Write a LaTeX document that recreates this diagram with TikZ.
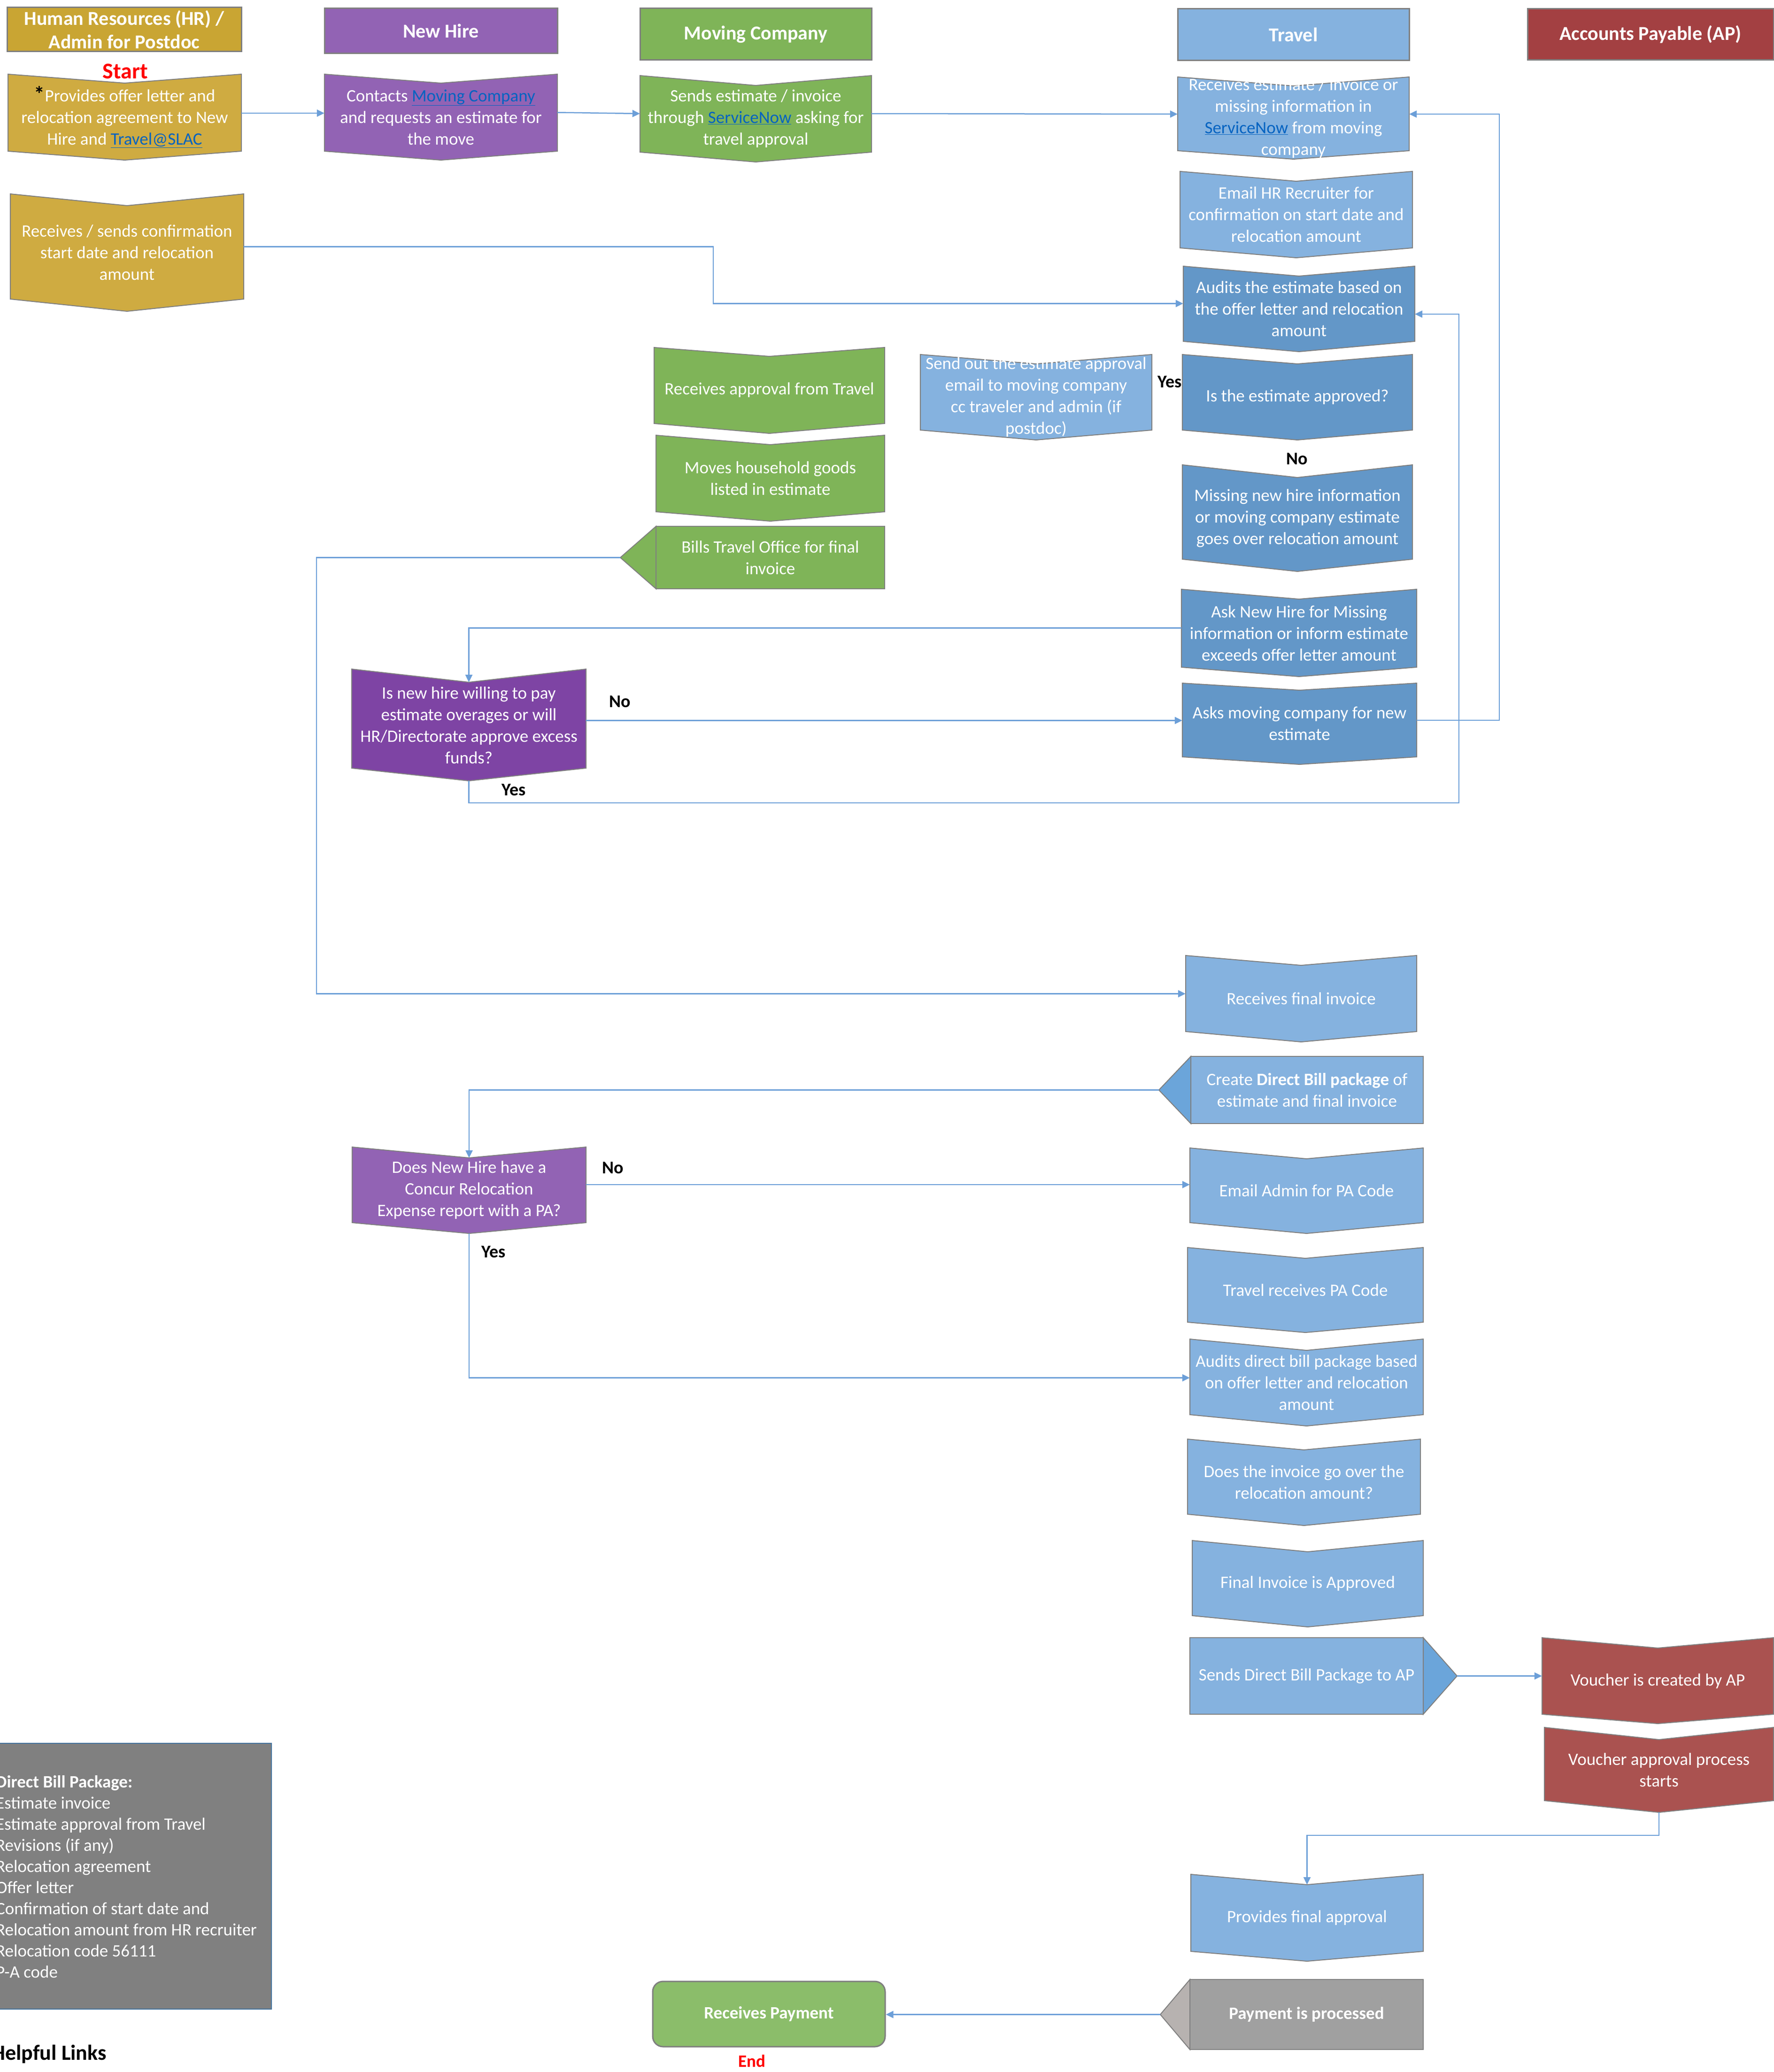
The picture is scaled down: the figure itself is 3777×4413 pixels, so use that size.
\documentclass[tikz,border=0pt]{standalone}
\usepackage{fontspec}
\setmainfont{Carlito}
\usetikzlibrary{arrows.meta,calc}
\definecolor{hrgold}{HTML}{CFAB41}
\definecolor{hrgoldh}{HTML}{C9A533}
\definecolor{nhpurple}{HTML}{9263B4}
\definecolor{dkpurple}{HTML}{7E44A4}
\definecolor{mcgreen}{HTML}{7FB458}
\definecolor{rpgreen}{HTML}{8BBD6A}
\definecolor{ltblue}{HTML}{85B2DF}
\definecolor{dkblue}{HTML}{6397C8}
\definecolor{triblue}{HTML}{6BA5DA}
\definecolor{aphead}{HTML}{A34042}
\definecolor{apred}{HTML}{AA5250}
\definecolor{pkgray}{HTML}{808080}
\definecolor{paygray}{HTML}{A0A0A0}
\definecolor{paytri}{HTML}{B7B2B0}
\definecolor{conncol}{HTML}{6C9FD8}
\definecolor{edge}{HTML}{7F7F7F}
\definecolor{linkblue}{HTML}{0563C1}
\definecolor{pkborder}{HTML}{41719C}
\definecolor{startred}{HTML}{FF0000}
\newcommand\lnk[1]{{\color{linkblue}\underline{#1}}}
\tikzset{
 boxtext/.style={inner sep=0pt,text=white,align=center,font=\fontsize{37}{46}\selectfont},
 hdr/.style={draw=edge,line width=3pt,text=white,inner sep=0pt,align=center,font=\bfseries\fontsize{42}{50}\selectfont},
 lbl/.style={font=\bfseries\fontsize{38}{46}\selectfont,text=black,inner sep=0pt},
 conn/.style={draw=conncol,line width=2.5pt},
 arr/.style={conn,-{Triangle[length=16pt,width=15pt]}},
}
% chevron pointing down: name, x1, x2, ytop, ynotch, ybottom, ypoint, fill, text
\newcommand\chev[9]{%
  \filldraw[fill=#8,draw=edge,line width=2pt] (#2,#4) -- ({(#2+#3)/2},#5) -- (#3,#4) -- (#3,#6) -- ({(#2+#3)/2},#7) -- (#2,#6) -- cycle;
  \node[boxtext,minimum width={(#3-#2)*1pt},minimum height={(#6-#5)*1pt}] (#1) at ({(#2+#3)/2},{(#5+#6)/2}) {#9};
  \coordinate (#1-top) at ({(#2+#3)/2},#5);
  \coordinate (#1-bot) at ({(#2+#3)/2},#7);}
% rectangle with a triangle: name, x1, x2, ytop, ybottom, xtip, fill, trianglefill, text
\newcommand\tribox[9]{%
  \filldraw[fill=#7,draw=edge,line width=2pt] (#2,#4) rectangle (#3,#5);
  \filldraw[fill=#8,draw=edge,line width=2pt] ({ifthenelse(#6<#2,#2,#3)},#4) -- (#6,{(#4+#5)/2}) -- ({ifthenelse(#6<#2,#2,#3)},#5) -- cycle;
  \node[boxtext,minimum width={(#3-#2)*1pt},minimum height={(#5-#4)*1pt}] (#1) at ({(#2+#3)/2},{(#4+#5)/2}) {#9};
  \coordinate (#1-tip) at (#6,{(#4+#5)/2});}
\begin{document}
\begin{tikzpicture}[x=1pt,y=-1pt]
\useasboundingbox (0,0) rectangle (3777,4413);
\fill[white] (0,0) rectangle (3777,4413);

% headers
\node[hdr,fill=hrgoldh,minimum width=499pt,minimum height=94pt] (hHR) at (264.5,63) {Human Resources (HR) /\\Admin for Postdoc};
\node[hdr,fill=nhpurple,minimum width=496pt,minimum height=96pt] (hNH) at (939,66) {New Hire};
\node[hdr,fill=mcgreen,minimum width=493pt,minimum height=110pt] (hMC) at (1609.5,73) {Moving Company};
\node[hdr,fill=ltblue,minimum width=493pt,minimum height=110pt] (hTR) at (2754.5,74) {Travel};
\node[hdr,fill=aphead,minimum width=524pt,minimum height=109pt] (hAP) at (3515,73.5) {Accounts Payable (AP)};

\node[font=\bfseries\fontsize{48}{56}\selectfont,text=startred,inner sep=0pt] (start) at (267,152) {Start};

% HR column
\chev{hr1}{17}{514}{158}{177}{322}{341}{hrgold}{{\color{black}\fontsize{46}{46}\selectfont\textbf{*}}Provides offer letter and\\relocation agreement to New\\Hire and \lnk{Travel@SLAC}}
\chev{hr2}{22}{519}{413}{438}{637}{663}{hrgold}{Receives / sends confirmation\\start date and relocation\\amount}

% New hire column
\chev{nh1}{691}{1187}{158}{177}{322}{341}{nhpurple}{Contacts \lnk{Moving Company}\\and requests an estimate for\\the move}
\chev{dec1}{749}{1248}{1425}{1453}{1636}{1663}{dkpurple}{Is new hire willing to pay\\estimate overages or will\\HR/Directorate approve excess\\funds?}
\chev{dec2}{750}{1248}{2443}{2466}{2604}{2627}{nhpurple}{Does New Hire have a\\Concur Relocation\\Expense report with a PA?}

% Moving company column
\chev{mc1}{1363}{1856}{161}{182}{324}{345}{mcgreen}{Sends estimate / invoice\\through \lnk{ServiceNow} asking for\\travel approval}
\chev{rap}{1393}{1884}{740}{759}{902}{923}{mcgreen}{Receives approval from Travel}
\chev{moves}{1397}{1884}{927}{947}{1090}{1110}{mcgreen}{Moves household goods\\listed in estimate}
\tribox{bills}{1397}{1884}{1121}{1254}{1321}{mcgreen}{mcgreen}{Bills  Travel Office for final\\invoice}

% Travel column
\chev{recv}{2508}{3001}{164}{183}{321}{339}{ltblue}{Receives estimate / invoice or\\missing information in\\\lnk{ServiceNow} from moving\\company}
\chev{ehr}{2513}{3008}{365}{386}{528}{549}{ltblue}{Email HR Recruiter for\\confirmation on start date and\\relocation amount}
\chev{aud}{2520}{3013}{567}{588}{727}{749}{dkblue}{Audits the estimate based on\\the offer letter and relocation\\amount}
\chev{isap}{2518}{3008}{755}{775}{916}{937}{dkblue}{Is the estimate approved?}
\chev{sendout}{1960}{2453}{755}{775}{916}{937}{ltblue}{Send out the estimate approval\\email to moving company\\cc traveler and admin (if\\postdoc)}
\chev{miss}{2518}{3008}{990}{1017}{1191}{1217}{dkblue}{Missing new hire information\\or moving company estimate\\goes over relocation amount}
\chev{ask}{2516}{3017}{1255}{1276}{1421}{1441}{dkblue}{Ask New Hire for Missing\\information or inform estimate\\exceeds offer letter amount}
\chev{asks}{2518}{3017}{1455}{1470}{1612}{1628}{dkblue}{Asks moving company for new\\estimate}
\chev{rfi}{2525}{3017}{2035}{2056}{2197}{2219}{ltblue}{Receives final invoice}
\tribox{cdb}{2536}{3031}{2250}{2393}{2468}{ltblue}{triblue}{Create \textbf{Direct Bill package} of\\estimate and final invoice}
\chev{ea}{2534}{3031}{2445}{2468}{2604}{2627}{ltblue}{Email Admin for PA Code}
\chev{trpa}{2529}{3031}{2657}{2680}{2816}{2838}{ltblue}{Travel receives PA Code}
\chev{adb}{2534}{3031}{2852}{2876}{3013}{3037}{ltblue}{Audits direct bill package based\\on offer letter and relocation\\amount}
\chev{dinv}{2529}{3025}{3065}{3088}{3225}{3249}{ltblue}{Does the invoice go over the\\relocation amount?}
\chev{fia}{2539}{3031}{3281}{3305}{3441}{3465}{ltblue}{Final Invoice is Approved}
\tribox{sdb}{2534}{3031}{3488}{3651}{3103}{ltblue}{triblue}{Sends Direct Bill Package to AP}
\chev{pfa}{2536}{3031}{3992}{4014}{4156}{4177}{ltblue}{Provides final approval}
\tribox{pay}{2534}{3031}{4216}{4365}{2471}{paygray}{paytri}{\textbf{Payment is processed}}

% AP column
\chev{vc}{3284}{3777}{3488}{3510}{3651}{3671}{apred}{Voucher is created by AP}
\chev{vap}{3289}{3777}{3679}{3705}{3835}{3860}{apred}{Voucher approval process\\starts}

% end
\node[draw=edge,line width=3pt,fill=rpgreen,rounded corners=22pt,minimum width=495pt,minimum height=139pt,text=white,inner sep=0pt,font=\bfseries\fontsize{37}{46}\selectfont] (rp) at (1637.5,4289.5) {Receives Payment};
\node[font=\bfseries\fontsize{37}{44}\selectfont,text=startred,inner sep=0pt] (endlbl) at (1601,4390) {End};

% direct bill package box
\filldraw[fill=pkgray,draw=pkborder,line width=2.5pt] (-10,3713) rectangle (578,4279);
\node[anchor=west,align=left,text=white,inner sep=0pt,font=\fontsize{37}{45}\selectfont] (dbp) at (-9,3997) {\textbf{Direct Bill Package:}\\Estimate invoice\\Estimate approval from Travel\\Revisions (if any)\\Relocation agreement\\Offer letter\\Confirmation of start date and\\Relocation amount from HR recruiter\\Relocation code 56111\\P-A code};
\node[anchor=west,inner sep=0pt,font=\bfseries\fontsize{46}{54}\selectfont] (links) at (-18,4375) {Helpful Links};

% labels
\node[lbl] (yesA) at (2491,813) {Yes};
\node[lbl] (noA) at (2762,977) {No};
\node[lbl] (noB) at (1320,1494) {No};
\node[lbl] (yesB) at (1094,1682) {Yes};
\node[lbl] (noC) at (1305,2487) {No};
\node[lbl] (yesC) at (1051,2666) {Yes};

% connectors
\draw[arr] ([yshift=8.5pt]hr1.east) -- ([yshift=8.5pt]nh1.west);
\draw[arr] ([yshift=10pt]nh1.east) -- ([yshift=11pt]mc1.west);
\draw[arr] ([yshift=11pt]mc1.east) -- ([yshift=9pt]recv.west);

\coordinate (j1) at (1519,600);
\draw[arr] ([yshift=12pt]hr2.east) -| (j1) |- ([yshift=11pt]aud.west);

\coordinate (j2) at (3193,900);
\coordinate (askso) at ($(asks.east)+(0,-7)$);
\draw[arr] (askso) -| (j2) |- ([yshift=9pt]recv.east);

\coordinate (j3) at (3107,1710);
\draw[arr] (dec1-bot) |- (j3) |- ([yshift=-11.5pt]aud.east);

\coordinate (asko) at ($(ask.west)+(0,-11)$);
\draw[arr] (asko) -| (dec1-top);

\coordinate (d1o) at ($(dec1.east)+(0,-10)$);
\draw[arr] (d1o) -- (d1o -| asks.west);

\coordinate (j4) at (674,1600);
\draw[arr] (bills-tip) -| (j4) |- ([yshift=10pt]rfi.west);

\draw[arr] (cdb-tip) -| (dec2-top);

\coordinate (d2o) at ($(dec2.east)+(0,-12)$);
\draw[arr] (d2o) -- (d2o -| ea.west);

\draw[arr] (dec2-bot) |- ([yshift=10pt]adb.west);

\draw[arr] (sdb-tip) -- (sdb-tip -| vc.west);

\coordinate (j5) at (3000,3909);
\draw[arr] (vap-bot) |- (j5) -| (pfa-top);

\draw[arr] (pay-tip) -- (pay-tip -| rp.east);
\end{tikzpicture}
\end{document}
